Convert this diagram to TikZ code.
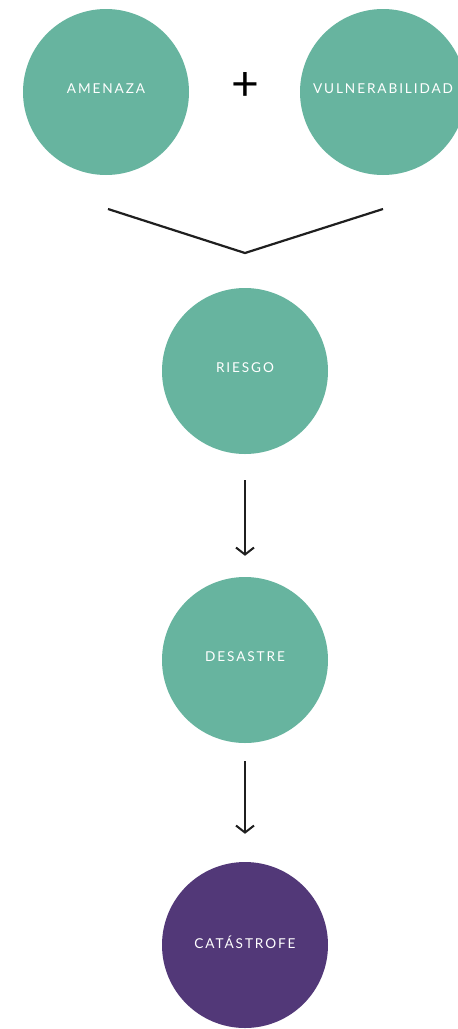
\documentclass[tikz,border=0pt]{standalone}
\usepackage{fontspec}
\setmainfont{Lato}[LetterSpace=14]
\usetikzlibrary{arrows.meta}
\definecolor{verde}{HTML}{67B49F}
\definecolor{morado}{HTML}{523878}
\tikzset{
  bola/.style={circle,fill=verde,minimum size=166pt,inner sep=0pt,text=white,
    text depth=6pt,font=\fontsize{13.6}{15}\selectfont},
  flecha/.style={line width=2pt,-{Straight Barb[length=7pt,width=18pt,line width=2pt]}},
  linea/.style={line width=2.2pt,draw=black!88}
}
\begin{document}
\begin{tikzpicture}[x=1pt,y=-1pt]
\useasboundingbox (0,0) rectangle (458,1029);

% the circles
\node[bola] (amenaza) at (106,92) {AMENAZA};
\node[bola] (vulnera) at (383,92) {VULNERABILIDAD};
\node[bola] (riesgo) at (245,371) {RIESGO};
\node[bola] (desastre) at (245,660) {DESASTRE};
\node[bola,fill=morado] (catastrofe) at (245,945) {CATÁSTROFE};

% plus sign
\node[font=\fontsize{48}{48}\selectfont,inner sep=0pt] (mas) at (245,87) {+};

% the V
\coordinate (vizq) at (108,209);
\coordinate (vpunta) at (245,253);
\coordinate (vder) at (383,209);
\draw[linea] (vizq) -- (vpunta) -- (vder);

% arrows
\draw[flecha,draw=black!88] ([yshift=-26pt]riesgo.south) -- ([yshift=21pt]desastre.north);
\draw[flecha,draw=black!88] ([yshift=-18pt]desastre.south) -- ([yshift=28pt]catastrofe.north);

\end{tikzpicture}
\end{document}
